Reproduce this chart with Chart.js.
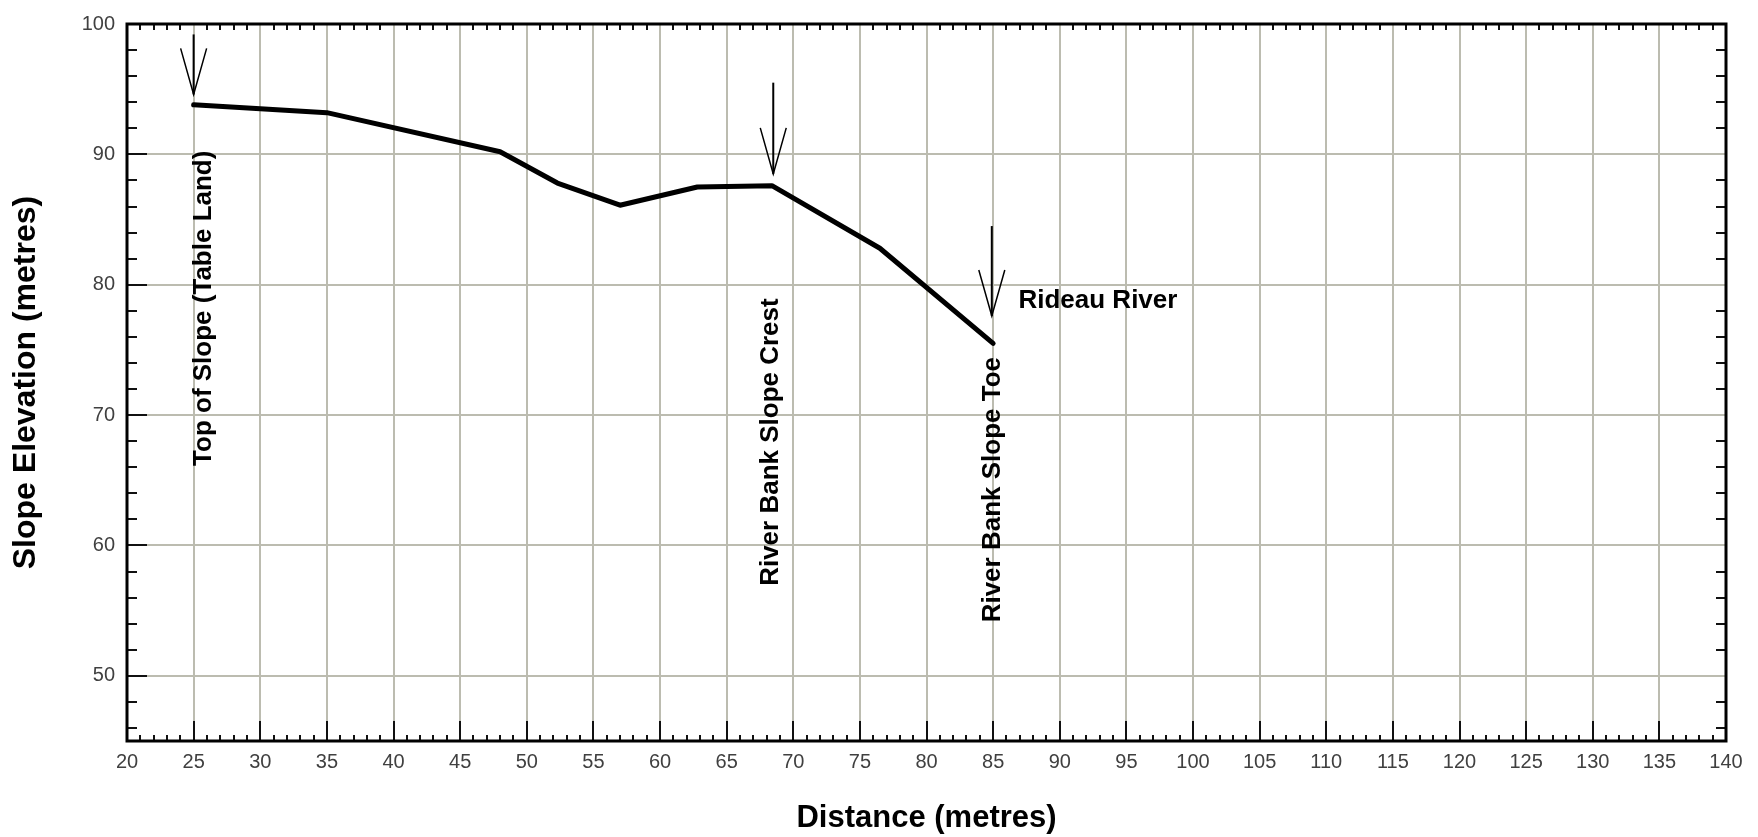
<!DOCTYPE html>
<html>
<head>
<meta charset="utf-8">
<script src="https://cdn.jsdelivr.net/npm/chart.js@4.4.1/dist/chart.umd.min.js"></script>
<style>
  html, body { margin: 0; padding: 0; background: #fff; }
  #wrap { width: 1758px; height: 837px; position: relative; }
</style>
</head>
<body>
<div id="wrap"><canvas id="myChart"></canvas></div>
<script>
// profile data (distance / elevation in metres)
const distance  = [25, 35, 48, 52.3, 57, 62.8, 68.4, 76.5, 85];
const elevation = [93.8, 93.2, 90.2, 87.8, 86.1, 87.5, 87.6, 82.8, 75.5];

// tick labels
const xTicks = [20, 25, 30, 35, 40, 45, 50, 55, 60, 65, 70, 75, 80, 85, 90, 95, 100, 105, 110, 115, 120, 125, 130, 135, 140];
const yTicks = [50, 60, 70, 80, 90, 100];

// annotation arrows (x, from-elevation, tip-elevation)
const arrowX    = [25, 68.5, 84.9];
const arrowFrom = [99.2, 95.5, 84.5];
const arrowTo   = [94.6, 88.5, 77.6];

// vertical labels (start at bottom, read upward)
const noteText = ['Top of Slope (Table Land)', 'River Bank Slope Crest', 'River Bank Slope Toe'];
const noteX    = [25.8, 68.3, 85.0];
const noteY    = [66.1, 56.9, 54.1];

const riverText = 'Rideau River';
const riverX = 86.9;
const riverY = 78.8;

const FONT = '"Liberation Sans", Arial, sans-serif';
const GRID = 'rgb(188,188,176)';

// frame, minor ticks, arrows and text
const decorations = {
    id: 'decorations',
    afterDatasetsDraw(chart) {
        const ctx = chart.ctx;
        const a = chart.chartArea;
        const xs = chart.scales.x;
        const ys = chart.scales.y;
        ctx.save();

        // ticks on frame
        ctx.strokeStyle = '#111';
        ctx.lineWidth = 2;
        ctx.beginPath();
        for (let v = 21; v < 140; v++) {
            const px = Math.round(xs.getPixelForValue(v));
            const major = v % 5 === 0;
            // bottom
            ctx.moveTo(px, a.bottom);
            ctx.lineTo(px, a.bottom - (major ? 20 : 6));
            // top (minor only)
            if (!major) {
                ctx.moveTo(px, a.top);
                ctx.lineTo(px, a.top + 6);
            }
        }
        for (let v = 46; v < 100; v += 2) {
            const py = Math.round(ys.getPixelForValue(v));
            const major = v % 10 === 0;
            ctx.moveTo(a.left, py);
            ctx.lineTo(a.left + (major ? 20 : 10), py);
            if (!major) {
                ctx.moveTo(a.right, py);
                ctx.lineTo(a.right - 10, py);
            }
        }
        ctx.stroke();

        // frame
        ctx.lineWidth = 3;
        ctx.strokeStyle = '#000';
        ctx.strokeRect(a.left, a.top, a.right - a.left, a.bottom - a.top);

        // arrows
        for (let i = 0; i < arrowX.length; i++) {
            const x = xs.getPixelForValue(arrowX[i]);
            const y0 = ys.getPixelForValue(arrowFrom[i]);
            const y1 = ys.getPixelForValue(arrowTo[i]);
            ctx.lineWidth = 2;
            ctx.beginPath();
            ctx.moveTo(x, y0);
            ctx.lineTo(x, y1);
            ctx.stroke();
            ctx.lineWidth = 1.5;
            ctx.beginPath();
            ctx.moveTo(x - 13, y1 - 46);
            ctx.lineTo(x, y1);
            ctx.lineTo(x + 13, y1 - 46);
            ctx.stroke();
        }

        // labels
        ctx.fillStyle = '#000';
        ctx.font = 'bold 26px ' + FONT;
        ctx.textBaseline = 'middle';
        ctx.textAlign = 'left';
        for (let i = 0; i < noteText.length; i++) {
            ctx.save();
            ctx.translate(xs.getPixelForValue(noteX[i]), ys.getPixelForValue(noteY[i]));
            ctx.rotate(-Math.PI / 2);
            ctx.fillText(noteText[i], 0, 0);
            ctx.restore();
        }
        ctx.fillText(riverText, xs.getPixelForValue(riverX), ys.getPixelForValue(riverY));

        ctx.restore();
    }
};

const ctx = document.getElementById('myChart').getContext('2d');
const myChart = new Chart(ctx, {
    type: 'line',
    data: {
        datasets: [{
            data: distance.map((d, i) => ({ x: d, y: elevation[i] })),
            borderColor: '#000',
            borderWidth: 5,
            borderJoinStyle: 'round',
            borderCapStyle: 'round',
            pointRadius: 0,
            tension: 0,
            fill: false
        }]
    },
    options: {
        responsive: true,
        maintainAspectRatio: false,
        animation: false,
        layout: { padding: { top: 19, right: 32, left: 0, bottom: 0 } },
        plugins: {
            legend: { display: false },
            tooltip: { enabled: false }
        },
        scales: {
            x: {
                type: 'linear',
                min: 20,
                max: 140,
                afterBuildTicks: (scale) => { scale.ticks = xTicks.map(v => ({ value: v })); },
                afterFit: (scale) => { scale.height = 96; },
                grid: { color: GRID, lineWidth: 2, drawTicks: false },
                border: { display: false },
                ticks: {
                    autoSkip: false,
                    maxRotation: 0,
                    padding: 9,
                    color: '#404040',
                    font: { family: FONT, size: 20 }
                },
                title: {
                    display: true,
                    text: 'Distance (metres)',
                    color: '#000',
                    padding: { top: 0, bottom: 0 },
                    font: { family: FONT, size: 31, weight: 'bold' }
                }
            },
            y: {
                type: 'linear',
                min: 45,
                max: 100,
                afterBuildTicks: (scale) => { scale.ticks = yTicks.map(v => ({ value: v })); },
                afterFit: (scale) => { scale.width = 127; },
                grid: { color: GRID, lineWidth: 2, drawTicks: false },
                border: { display: false },
                ticks: {
                    padding: 12,
                    color: '#404040',
                    font: { family: FONT, size: 20 }
                },
                title: {
                    display: true,
                    text: 'Slope Elevation (metres)',
                    color: '#000',
                    padding: { top: 7, bottom: 0 },
                    font: { family: FONT, size: 32, weight: 'bold' }
                }
            }
        }
    },
    plugins: [decorations]
});
</script>
</body>
</html>
